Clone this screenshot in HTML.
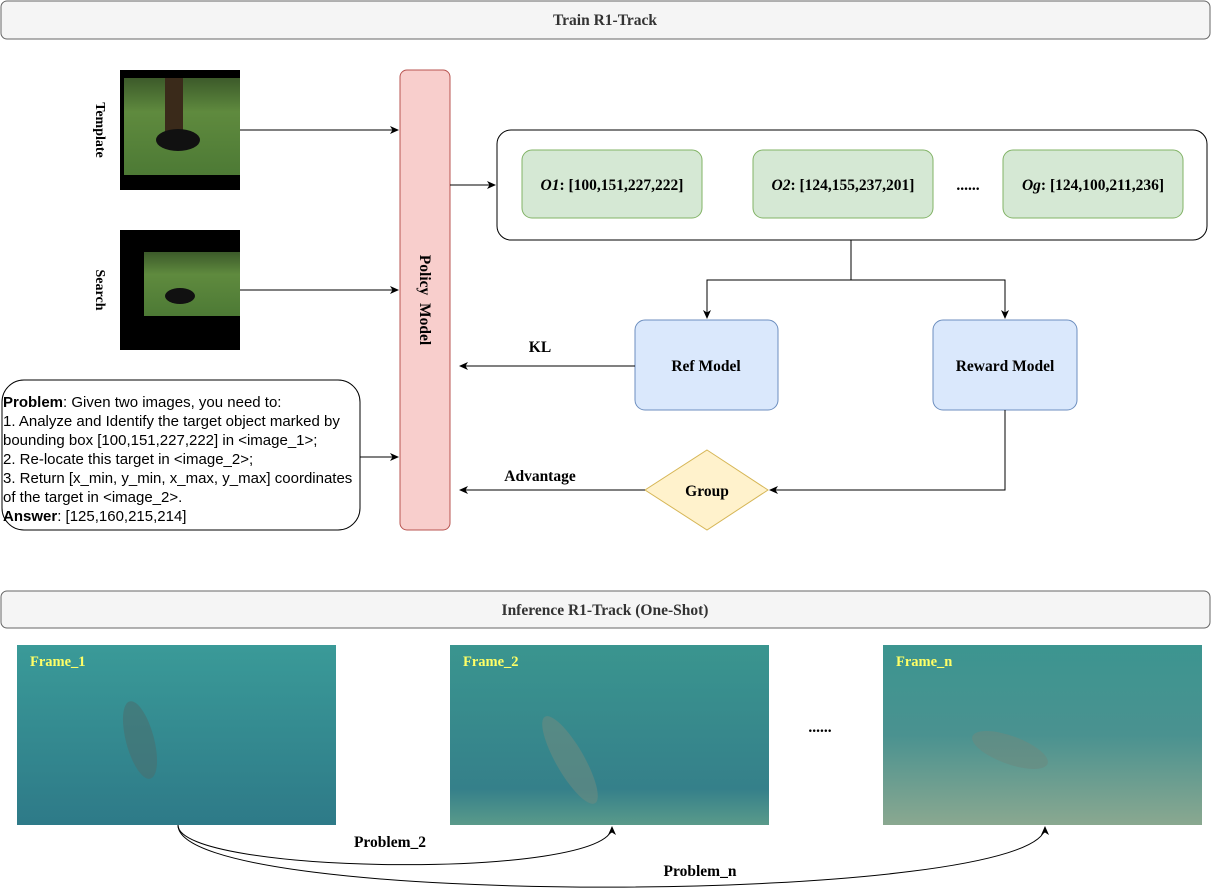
<!DOCTYPE html>
<html><head><meta charset="utf-8"><style>
html,body{margin:0;padding:0;background:#fff;}
svg{display:block;}
.s{font-family:"Liberation Serif",serif;font-weight:bold;}
.a{font-family:"Liberation Sans",sans-serif;}
</style></head><body>
<svg width="1211" height="891" viewBox="0 0 1211 891" xmlns="http://www.w3.org/2000/svg">
<defs>
<marker id="ar" markerWidth="10" markerHeight="10" refX="8" refY="5" orient="auto" markerUnits="userSpaceOnUse">
<path d="M0,1 L9,5 L0,9 L2.5,5 Z" fill="#000"/></marker>
<linearGradient id="grass" x1="0" y1="0" x2="0" y2="1">
<stop offset="0" stop-color="#3c5a2a"/><stop offset="0.35" stop-color="#5f8a3e"/><stop offset="1" stop-color="#4d7a35"/></linearGradient>
<linearGradient id="sea1" x1="0" y1="0" x2="0" y2="1">
<stop offset="0" stop-color="#3a9a98"/><stop offset="1" stop-color="#2e7a88"/></linearGradient>
<linearGradient id="sea2" x1="0" y1="0" x2="0" y2="1">
<stop offset="0" stop-color="#3a958f"/><stop offset="0.8" stop-color="#35808a"/><stop offset="1" stop-color="#5a9a8a"/></linearGradient>
<linearGradient id="sea3" x1="0" y1="0" x2="0" y2="1">
<stop offset="0" stop-color="#3c9590"/><stop offset="0.5" stop-color="#4a9290"/><stop offset="1" stop-color="#8aa890"/></linearGradient>
</defs>

<rect x="1" y="1" width="1209" height="38" rx="6" fill="#f5f5f5" stroke="#666"/>
<text x="605" y="25" text-anchor="middle" class="s" font-size="15.5" fill="#333">Train R1-Track</text>

<rect x="120" y="70" width="120" height="120" fill="#000"/>
<rect x="124" y="78" width="116" height="97" fill="url(#grass)"/>
<rect x="165" y="78" width="18" height="60" fill="#3a2a1a"/>
<ellipse cx="178" cy="140" rx="22" ry="11" fill="#111"/>
<rect x="120" y="230" width="120" height="120" fill="#000"/>
<rect x="144" y="252" width="96" height="64" fill="url(#grass)"/>
<ellipse cx="180" cy="296" rx="15" ry="8" fill="#111"/>

<text class="s" font-size="14" transform="translate(96,130) rotate(90)" text-anchor="middle">Template</text>
<text class="s" font-size="14" transform="translate(96,290) rotate(90)" text-anchor="middle">Search</text>

<line x1="240" y1="130" x2="398" y2="130" stroke="#000" marker-end="url(#ar)"/>
<line x1="240" y1="290" x2="398" y2="290" stroke="#000" marker-end="url(#ar)"/>
<line x1="360" y1="457" x2="398" y2="457" stroke="#000" marker-end="url(#ar)"/>

<rect x="400" y="70" width="50" height="460" rx="7" fill="#f8cecc" stroke="#b85450"/>
<text class="s" font-size="15.5" transform="translate(420,300) rotate(90)" text-anchor="middle">Policy&#160; Model</text>

<line x1="450" y1="185" x2="495" y2="185" stroke="#000" marker-end="url(#ar)"/>
<rect x="497" y="130" width="710" height="110" rx="14" fill="#fff" stroke="#000"/>
<rect x="522" y="150" width="180" height="68" rx="10" fill="#d5e8d4" stroke="#82b366"/>
<rect x="753" y="150" width="180" height="68" rx="10" fill="#d5e8d4" stroke="#82b366"/>
<rect x="1003" y="150" width="180" height="68" rx="10" fill="#d5e8d4" stroke="#82b366"/>
<text x="612" y="190" text-anchor="middle" class="s" font-size="15.5"><tspan font-style="italic">O1</tspan>: [100,151,227,222]</text>
<text x="843" y="190" text-anchor="middle" class="s" font-size="15.5"><tspan font-style="italic">O2</tspan>: [124,155,237,201]</text>
<text x="1093" y="190" text-anchor="middle" class="s" font-size="15.5"><tspan font-style="italic">Og</tspan>: [124,100,211,236]</text>
<text x="968" y="190" text-anchor="middle" class="s" font-size="15.5">......</text>

<polyline points="851,240 851,280 707,280 707,318" fill="none" stroke="#000" marker-end="url(#ar)"/>
<polyline points="851,280 1005,280 1005,318" fill="none" stroke="#000" marker-end="url(#ar)"/>

<rect x="635" y="320" width="143" height="90" rx="10" fill="#dae8fc" stroke="#6c8ebf"/>
<rect x="933" y="320" width="144" height="90" rx="10" fill="#dae8fc" stroke="#6c8ebf"/>
<text x="706" y="371" text-anchor="middle" class="s" font-size="15.5">Ref Model</text>
<text x="1005" y="371" text-anchor="middle" class="s" font-size="15.5">Reward Model</text>

<line x1="635" y1="366" x2="460" y2="366" stroke="#000" marker-end="url(#ar)"/>
<text x="540" y="352" text-anchor="middle" class="s" font-size="15.5">KL</text>

<polyline points="1005,410 1005,490 770,490" fill="none" stroke="#000" marker-end="url(#ar)"/>
<polygon points="707,450 768,490 707,530 645,490" fill="#fff2cc" stroke="#d6b656"/>
<text x="707" y="496" text-anchor="middle" class="s" font-size="15.5">Group</text>
<line x1="645" y1="490" x2="460" y2="490" stroke="#000" marker-end="url(#ar)"/>
<text x="540" y="481" text-anchor="middle" class="s" font-size="15.5">Advantage</text>

<rect x="2" y="380" width="358" height="150" rx="22" fill="#fff" stroke="#000"/>
<g class="a" font-size="15">
<text x="3" y="407"><tspan font-weight="bold">Problem</tspan>: Given two images, you need to:</text>
<text x="3" y="426">1. Analyze and Identify the target object marked by</text>
<text x="3" y="445">bounding box [100,151,227,222] in &lt;image_1&gt;;</text>
<text x="3" y="464">2. Re-locate this target in &lt;image_2&gt;;</text>
<text x="3" y="483">3. Return [x_min, y_min, x_max, y_max] coordinates</text>
<text x="3" y="502">of the target in &lt;image_2&gt;.</text>
<text x="3" y="521"><tspan font-weight="bold">Answer</tspan>: [125,160,215,214]</text>
</g>

<rect x="1" y="591" width="1209" height="37" rx="6" fill="#f5f5f5" stroke="#666"/>
<text x="605" y="615" text-anchor="middle" class="s" font-size="15.5" fill="#333">Inference R1-Track (One-Shot)</text>

<rect x="17" y="645" width="319" height="180" fill="url(#sea1)"/>
<ellipse cx="140" cy="740" rx="14" ry="40" fill="#4a7070" opacity="0.6" transform="rotate(-15 140 740)"/>
<rect x="450" y="645" width="319" height="180" fill="url(#sea2)"/>
<ellipse cx="570" cy="760" rx="14" ry="50" fill="#6a8a80" opacity="0.6" transform="rotate(-30 570 760)"/>
<rect x="883" y="645" width="319" height="180" fill="url(#sea3)"/>
<ellipse cx="1010" cy="750" rx="40" ry="14" fill="#6a8a80" opacity="0.6" transform="rotate(20 1010 750)"/>

<text x="30" y="666" class="s" font-size="14.5" fill="#ffff66">Frame_1</text>
<text x="463" y="666" class="s" font-size="14.5" fill="#ffff66">Frame_2</text>
<text x="896" y="666" class="s" font-size="14.5" fill="#ffff66">Frame_n</text>
<text x="820" y="732" text-anchor="middle" class="s" font-size="15.5">......</text>

<path d="M178,825 C178,875 612,880 612,827" fill="none" stroke="#000" marker-end="url(#ar)"/>
<path d="M178,825 C178,910 1045,905 1045,827" fill="none" stroke="#000" marker-end="url(#ar)"/>
<text x="390" y="847" text-anchor="middle" class="s" font-size="15.5">Problem_2</text>
<text x="700" y="876" text-anchor="middle" class="s" font-size="15.5">Problem_n</text>
</svg>
</body></html>
